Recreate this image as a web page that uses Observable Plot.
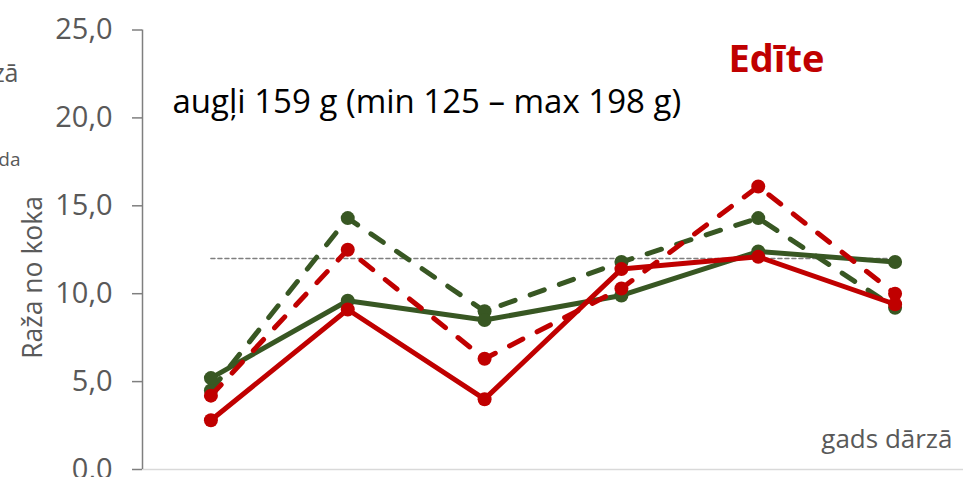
<!DOCTYPE html>
<html>
<head>
<meta charset="utf-8">
<script src="https://cdn.jsdelivr.net/npm/d3@7"></script>
<script src="https://cdn.jsdelivr.net/npm/@observablehq/plot@0.6"></script>
<style>
  html, body { margin: 0; padding: 0; background: #fff; }
  #chart svg { display: block; }
</style>
</head>
<body>
<div id="chart"></div>
<script>
const years = [1, 2, 3, 4, 5, 6];
const yTicks = [0, 5, 10, 15, 20, 25];
const greenSolid  = [5.2, 9.6, 8.5, 9.9, 12.4, 11.8];
const greenDashed = [4.5, 14.3, 9.0, 11.8, 14.3, 9.2];
const redSolid    = [2.8, 9.1, 4.0, 11.4, 12.1, 9.4];
const redDashed   = [4.2, 12.5, 6.3, 10.3, 16.1, 10.0];
const referenceLevel = 12;
const titleText = "Edīte";
const subtitleText = "augļi 159 g (min 125 – max 198 g)";
const yLabel = "Raža no koka";
const xLabel = "gads dārzā";

const GREEN = "#385723";
const RED = "#c00000";
const FONT = "'Open Sans', sans-serif";

const toRows = (vals) => years.map((yr, i) => ({year: yr, value: vals[i]}));
const series = [
  {rows: toRows(greenDashed), color: GREEN, dash: "15,16"},
  {rows: toRows(greenSolid),  color: GREEN, dash: null},
  {rows: toRows(redDashed),   color: RED,   dash: "15,16"},
  {rows: toRows(redSolid),    color: RED,   dash: null}
];

const marks = [];
marks.push(Plot.ruleY([0], {stroke: "#d9d9d9", strokeWidth: 1.5}));
marks.push(Plot.ruleX([0.5], {stroke: "#7f7f7f", strokeWidth: 1.5}));
marks.push(Plot.lineY(years.map(yr => ({year: yr, value: referenceLevel})), {
  x: "year", y: "value", stroke: "#7f7f7f", strokeWidth: 1.5, strokeDasharray: "4,3"
}));
for (const s of series) {
  marks.push(Plot.lineY(s.rows, {
    x: "year", y: "value", stroke: s.color, strokeWidth: 5,
    strokeDasharray: s.dash || undefined, strokeLinecap: "round", strokeLinejoin: "round"
  }));
  marks.push(Plot.dot(s.rows, {x: "year", y: "value", r: 7, fill: s.color, stroke: "none"}));
}
marks.push(Plot.axisY(yTicks, {
  tickSize: 10, tickPadding: 20, stroke: "#7f7f7f", strokeWidth: 1.5,
  tickFormat: d => d.toFixed(1).replace(".", ","),
  fontSize: 29, fill: "#595959", fontFamily: FONT, label: null
}));
marks.push(Plot.text([titleText], {
  frameAnchor: "top-left", dx: 586, dy: 15, text: d => d,
  fill: RED, fontSize: 38, fontWeight: "bold", textAnchor: "start", fontFamily: FONT
}));
marks.push(Plot.text([subtitleText], {
  frameAnchor: "top-left", dx: 30, dy: 60, text: d => d,
  fill: "#000", fontSize: 33, textAnchor: "start", fontFamily: FONT
}));
marks.push(Plot.text([xLabel], {
  frameAnchor: "bottom-right", dx: -11, dy: -22, text: d => d,
  fill: "#595959", fontSize: 26, textAnchor: "end", fontFamily: FONT
}));
marks.push(Plot.text([yLabel], {
  frameAnchor: "left", dx: -109, dy: 109, rotate: -90, text: d => d,
  fill: "#595959", fontSize: 26.5, textAnchor: "start", fontFamily: FONT
}));
marks.push(Plot.text(["dārzā"], {
  frameAnchor: "top-left", dx: -124, dy: 34, text: d => d,
  fill: "#595959", fontSize: 25, textAnchor: "end", fontFamily: FONT
}));
marks.push(Plot.text(["da"], {
  frameAnchor: "top-left", dx: -122, dy: 122, text: d => d,
  fill: "#595959", fontSize: 19, textAnchor: "end", fontFamily: FONT
}));

const chart = Plot.plot({
  width: 974,
  height: 477,
  marginLeft: 142,
  marginRight: 11,
  marginTop: 29.5,
  marginBottom: 8,
  style: {background: "#fff", overflow: "visible"},
  x: {domain: [0.5, 6.5], axis: null},
  y: {domain: [0, 25], axis: null},
  marks
});
document.getElementById("chart").appendChild(chart);
</script>
</body>
</html>
